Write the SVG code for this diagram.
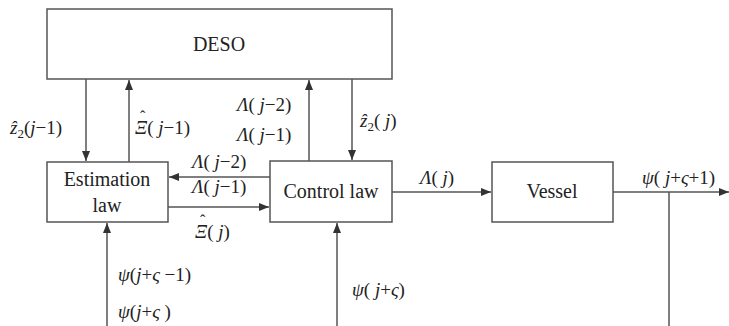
<svg xmlns="http://www.w3.org/2000/svg" width="729" height="326" viewBox="0 0 729 326" font-family="Liberation Serif, Times New Roman, serif">
<defs>
<marker id="ah" viewBox="0 0 10 8" refX="10" refY="4" markerWidth="10" markerHeight="8" markerUnits="userSpaceOnUse" orient="auto">
<path d="M0,0 L10,4 L0,8 Z" fill="#333"/>
</marker>
</defs>
<rect width="729" height="326" fill="#fff"/>
<g id="connectors" fill="none" stroke="#555" stroke-width="1.5">
<path marker-end="url(#ah)" d="M86,79 V161"/>
<path marker-end="url(#ah)" d="M129,162 V80"/>
<path marker-end="url(#ah)" d="M309,161 V80"/>
<path marker-end="url(#ah)" d="M352,79 V160"/>
<path marker-end="url(#ah)" d="M270,177 H169"/>
<path marker-end="url(#ah)" d="M168,207 H269"/>
<path marker-end="url(#ah)" d="M392,192 H491"/>
<path marker-end="url(#ah)" d="M613,192 H729"/>
<path d="M669,192 V326"/>
<path marker-end="url(#ah)" d="M107,326 V223"/>
<path marker-end="url(#ah)" d="M337,326 V223"/>
</g>
<g id="deso">
<rect x="47" y="9" width="345" height="70" fill="#fff" stroke="#555" stroke-width="1.5"/>
<text x="219" y="51" font-family="Liberation Serif, Times New Roman, serif" font-size="20" fill="#222" text-anchor="middle">DESO</text>
</g>
<g id="estimation">
<rect x="47" y="162" width="121" height="60" fill="#fff" stroke="#555" stroke-width="1.5"/>
<text x="107" y="186" font-family="Liberation Serif, Times New Roman, serif" font-size="20" fill="#222" text-anchor="middle">Estimation</text>
<text x="107" y="212" font-family="Liberation Serif, Times New Roman, serif" font-size="20" fill="#222" text-anchor="middle">law</text>
</g>
<g id="control">
<rect x="270" y="161" width="122" height="61" fill="#fff" stroke="#555" stroke-width="1.5"/>
<text x="331" y="198" font-family="Liberation Serif, Times New Roman, serif" font-size="20" fill="#222" text-anchor="middle">Control law</text>
</g>
<g id="vessel">
<rect x="492" y="162" width="121" height="60" fill="#fff" stroke="#555" stroke-width="1.5"/>
<text x="552" y="198" font-family="Liberation Serif, Times New Roman, serif" font-size="20" fill="#222" text-anchor="middle">Vessel</text>
</g>
<g id="labels" font-family="Liberation Serif, Times New Roman, serif" font-size="19" fill="#222">
<text x="10" y="134"><tspan font-style="italic">ẑ</tspan><tspan font-size="13" dy="4">2</tspan><tspan dy="-4">(</tspan><tspan font-style="italic">j</tspan>−1)</text>
<text x="135" y="134"><tspan font-style="italic">Ξ</tspan>( <tspan font-style="italic">j</tspan>−1)</text>
<text x="140" y="122" font-size="16">ˆ</text>
<text x="237" y="111"><tspan font-style="italic">Λ</tspan>( <tspan font-style="italic">j</tspan>−2)</text>
<text x="237" y="141"><tspan font-style="italic">Λ</tspan>( <tspan font-style="italic">j</tspan>−1)</text>
<text x="360" y="127"><tspan font-style="italic">ẑ</tspan><tspan font-size="13" dy="4">2</tspan><tspan dy="-4">( </tspan><tspan font-style="italic">j</tspan>)</text>
<text x="192" y="168"><tspan font-style="italic">Λ</tspan>( <tspan font-style="italic">j</tspan>−2)</text>
<text x="192" y="193"><tspan font-style="italic">Λ</tspan>( <tspan font-style="italic">j</tspan>−1)</text>
<text x="195" y="238"><tspan font-style="italic">Ξ</tspan>( <tspan font-style="italic">j</tspan>)</text>
<text x="200" y="226" font-size="16">ˆ</text>
<text x="420" y="184"><tspan font-style="italic">Λ</tspan>( <tspan font-style="italic">j</tspan>)</text>
<text x="642" y="184"><tspan font-style="italic">ψ</tspan>( <tspan font-style="italic">j</tspan>+<tspan font-style="italic">ς</tspan>+1)</text>
<text x="118" y="281"><tspan font-style="italic">ψ</tspan>(<tspan font-style="italic">j</tspan>+<tspan font-style="italic">ς</tspan> −1)</text>
<text x="118" y="318"><tspan font-style="italic">ψ</tspan>(<tspan font-style="italic">j</tspan>+<tspan font-style="italic">ς</tspan> )</text>
<text x="352" y="296"><tspan font-style="italic">ψ</tspan>( <tspan font-style="italic">j</tspan>+<tspan font-style="italic">ς</tspan>)</text>
</g>
</svg>
